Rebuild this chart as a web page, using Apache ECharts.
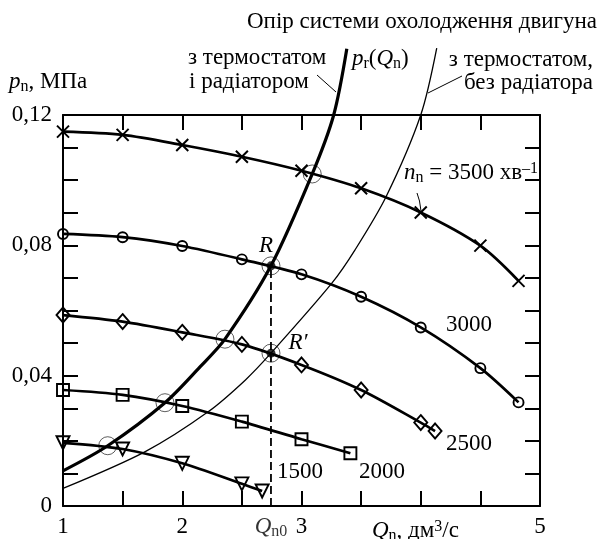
<!DOCTYPE html>
<html>
<head>
<meta charset="utf-8">
<script src="https://cdn.jsdelivr.net/npm/echarts@6.0.0/dist/echarts.min.js"></script>
<style>
  html, body {margin: 0; padding: 0; background: #fff;}
  #chart {width: 598px; height: 539px;}
</style>
</head>
<body>
<div id="chart"></div>
<script>
// pump curves p_n(Q_n) for each speed
const q3500 = [1, 1.5, 2, 2.5, 3, 3.5, 4, 4.5, 4.82]
const p3500 = [0.1149, 0.1139, 0.1108, 0.1072, 0.1029, 0.0975, 0.0901, 0.0799, 0.0691]
const q3000 = [1, 1.5, 2, 2.5, 3, 3.5, 4, 4.5, 4.82]
const p3000 = [0.0835, 0.0825, 0.0798, 0.0757, 0.0711, 0.0642, 0.0548, 0.0423, 0.0318]
const q2500 = [1, 1.5, 2, 2.5, 3, 3.5, 4, 4.12]
const p2500 = [0.0586, 0.0566, 0.0533, 0.0496, 0.0433, 0.0356, 0.0256, 0.0230]
const q2000 = [1, 1.5, 2, 2.5, 3, 3.41]
const p2000 = [0.0356, 0.0341, 0.0307, 0.0259, 0.0205, 0.0162]
const q1500 = [1, 1.5, 2, 2.5, 2.67]
const p1500 = [0.0194, 0.0175, 0.0131, 0.0068, 0.0046]

// system resistance p_r(Q_n)
const qWithRad = [1, 1.375, 1.855, 2.149, 2.358, 2.744, 3.09, 3.27, 3.38]
const pWithRad = [0.0108, 0.0185, 0.0317, 0.0427, 0.0512, 0.0737, 0.1019, 0.12, 0.1403]
const qNoRad = [1, 1.69, 2.22, 2.53, 2.744, 3.253, 3.449, 3.709, 4.0, 4.134]
const pNoRad = [0.0054, 0.0167, 0.029, 0.0387, 0.0469, 0.0683, 0.0786, 0.0949, 0.12, 0.1405]

// operating points
const qCross = [1.375, 1.855, 2.358, 3.09]
const pCross = [0.0185, 0.0317, 0.0512, 0.1019]
const qOp = [2.744, 2.744]
const pOp = [0.0737, 0.0469]
const Q0 = 2.744

const FONT = "'Liberation Serif', 'Times New Roman', serif"
const zip = (xs, ys) => xs.map((x, i) => [x, ys[i]])

const rich = {
    n: {fontFamily: FONT, fontSize: 23, color: '#000'},
    i: {fontFamily: FONT, fontSize: 23, fontStyle: 'italic', color: '#000'},
    s: {fontFamily: FONT, fontSize: 16, color: '#000', padding: [9, 0, 0, 0]},
    sup: {fontFamily: FONT, fontSize: 16, color: '#000', padding: [0, 0, 9, 0]},
}

const pumpSeries = (name, xs, ys, symbol, size, extra) => ({
    name,
    type: 'line',
    data: zip(xs, ys),
    smooth: 0.3,
    symbol,
    symbolSize: size,
    lineStyle: {color: '#000', width: 2.7},
    itemStyle: {color: 'rgba(0,0,0,0)', borderColor: '#000', borderWidth: 1.9},
    emphasis: {disabled: true},
    z: 3,
    ...extra,
})

const txt = (x, y, text, align, extra) => ({
    type: 'text',
    x, y,
    style: {text, font: '23px ' + FONT, fill: '#000', align: align || 'left', verticalAlign: 'middle', rich, ...extra},
})

const line = (x1, y1, x2, y2, w) => ({
    type: 'line',
    shape: {x1, y1, x2, y2},
    style: {stroke: '#000', lineWidth: w || 1},
})

const axisCommon = {
    type: 'value',
    axisLine: {show: true, onZero: false, lineStyle: {color: '#000', width: 2}},
    axisTick: {show: true, inside: true, length: 15, lineStyle: {color: '#000', width: 2}},
    splitLine: {show: false},
}

const chart = echarts.init(document.getElementById('chart'))
chart.setOption({
    animation: false,
    backgroundColor: '#fff',
    grid: {left: 63, right: 58, top: 115, bottom: 33},
    xAxis: [
        {
            ...axisCommon, min: 1, max: 5, interval: 0.5, position: 'bottom',
            axisLabel: {
                margin: 9, fontFamily: FONT, fontSize: 23, color: '#000',
                formatter: (v) => (Number.isInteger(v) && v !== 4 ? String(v) : ''),
            },
        },
        {...axisCommon, min: 1, max: 5, interval: 0.5, position: 'top', axisLabel: {show: false}},
    ],
    yAxis: [
        {
            ...axisCommon, min: 0, max: 0.12, interval: 0.01, position: 'left',
            axisLabel: {
                margin: 11, fontFamily: FONT, fontSize: 23, color: '#000',
                formatter: (v) => {
                    const k = Math.round(v * 100)
                    if (k % 4 !== 0) return ''
                    return k === 0 ? '0' : (k / 100).toFixed(2).replace('.', ',')
                },
            },
        },
        {...axisCommon, min: 0, max: 0.12, interval: 0.01, position: 'right', axisLabel: {show: false}},
    ],
    series: [
        {
            type: 'line', data: zip(qWithRad, pWithRad), smooth: 0.3,
            symbol: 'none', clip: false, lineStyle: {color: '#000', width: 3.2}, z: 2,
        },
        {
            type: 'line', data: zip(qNoRad, pNoRad), smooth: 0.3,
            symbol: 'none', clip: false, lineStyle: {color: '#000', width: 1.3}, z: 2,
        },
        pumpSeries('3500', q3500, p3500, 'path://M0,0L10,10M10,0L0,10', 12, {itemStyle: {color: 'rgba(0,0,0,0)', borderColor: '#000', borderWidth: 2}}),
        pumpSeries('3000', q3000, p3000, 'circle', 10),
        pumpSeries('2500', q2500, p2500, 'diamond', [13, 15]),
        pumpSeries('2000', q2000, p2000, 'rect', 12),
        pumpSeries('1500', q1500, p1500, 'triangle', 13, {symbolRotate: 180}),
        {
            type: 'line', data: [[Q0, 0], [Q0, pOp[0]]], symbol: 'none',
            lineStyle: {color: '#000', width: 1.8, type: [8, 4]}, z: 2,
        },
        {
            type: 'scatter', data: zip(qCross.concat(qOp), pCross.concat(pOp)), symbol: 'circle', symbolSize: 18,
            itemStyle: {color: 'rgba(0,0,0,0)', borderColor: '#000', borderWidth: 0.8}, z: 4,
        },
        {
            type: 'scatter', data: zip(qOp, pOp), symbol: 'circle', symbolSize: 9,
            itemStyle: {color: '#000'}, z: 5,
        },
        {
            type: 'scatter', data: [[Q0, 0]], symbolSize: 1, itemStyle: {color: 'rgba(0,0,0,0)'},
            label: {show: true, position: 'bottom', distance: 8, formatter: '{i|Q}{s|n0}', rich},
        },
    ],
    graphic: [
        txt(597, 22, 'Опір системи охолодження двигуна', 'right'),
        txt(188, 58, 'з термостатом'),
        txt(189, 82, 'і радіатором'),
        txt(352, 59, '{i|p}{s|r}{n|(}{i|Q}{s|n}{n|)}'),
        txt(593, 60, 'з термостатом,', 'right'),
        txt(593, 83, 'без радіатора', 'right'),
        txt(9, 82, '{i|p}{s|n}{n|, МПа}'),
        txt(404, 173, '{i|n}{s|n}{n| = 3500 хв}{sup|–1}'),
        txt(446, 325, '3000'),
        txt(446, 444, '2500'),
        txt(359, 472, '2000'),
        txt(277, 472, '1500'),
        txt(266, 246, 'R', 'center', {font: 'italic 23px ' + FONT}),
        txt(298, 343, 'R′', 'center', {font: 'italic 23px ' + FONT}),
        txt(372, 531, '{i|Q}{s|n}{n|, дм}{sup|3}{n|/с}'),
        line(317, 75, 336, 92),
        line(462, 76, 428, 93),
        {
            type: 'bezierCurve',
            shape: {x1: 417, y1: 193, x2: 421, y2: 211, cpx1: 420, cpy1: 200},
            style: {stroke: '#000', lineWidth: 1, fill: null},
        },
    ],
})
</script>
</body>
</html>
